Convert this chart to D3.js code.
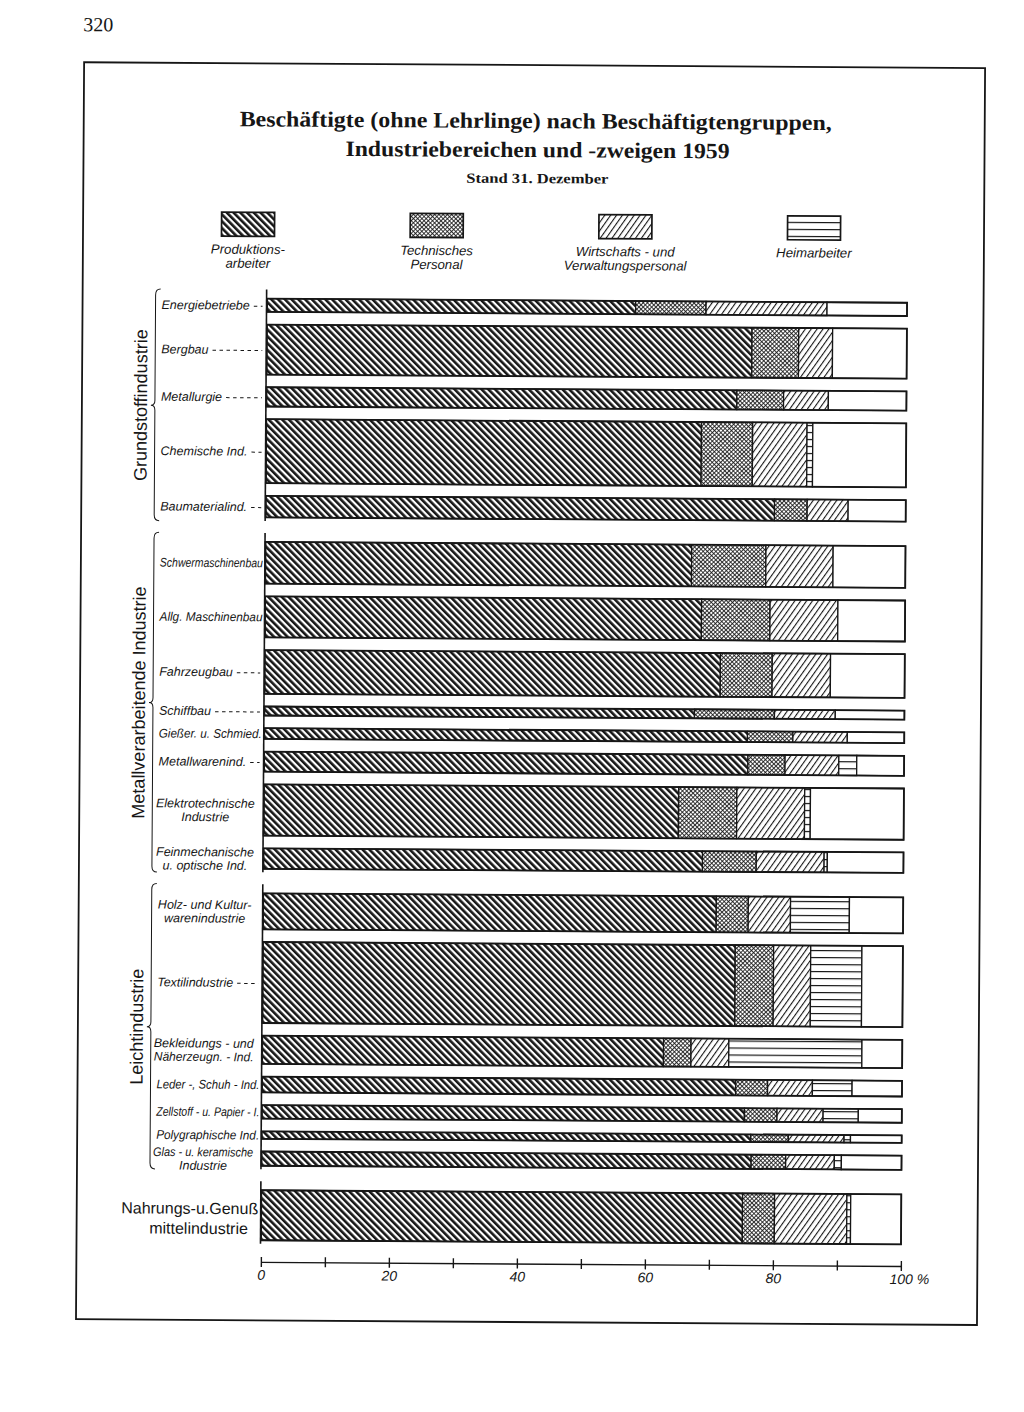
<!DOCTYPE html>
<html><head><meta charset="utf-8">
<script src="https://cdn.jsdelivr.net/npm/d3@7"></script>
<style>body{margin:0;background:#fff}svg{display:block}</style>
</head><body><svg id="c" width="1024" height="1412"></svg>
<script>
// ---------------- DATA ----------------
const groupNames = ["Grundstoffindustrie", "Metallverarbeitende Industrie", "Leichtindustrie", ""];
const categories = [
  "Energiebetriebe", "Bergbau", "Metallurgie", "Chemische Ind.", "Baumaterialind.",
  "Schwermaschinenbau", "Allg. Maschinenbau", "Fahrzeugbau", "Schiffbau", "Gießer. u. Schmied.",
  "Metallwarenind.", "Elektrotechnische|Industrie", "Feinmechanische|u. optische Ind.",
  "Holz- und Kultur-|warenindustrie", "Textilindustrie", "Bekleidungs - und|Näherzeugn. - Ind.",
  "Leder -, Schuh - Ind.", "Zellstoff - u. Papier - I.", "Polygraphische Ind.",
  "Glas - u. keramische|Industrie", "Nahrungs-u.Genuß|mittelindustrie"
];
const categoryGroup = [0,0,0,0,0, 1,1,1,1,1,1,1,1, 2,2,2,2,2,2,2, 3];
// shares in %
const produktionsarbeiter = [57.6, 75.8, 73.5, 68.0, 79.5, 66.6, 68.2, 71.2, 67.2, 75.5, 75.6, 64.8, 68.6, 70.8, 73.8, 62.7, 74.0, 75.4, 76.4, 76.5, 75.2];
const technischesPersonal = [11.0, 7.3, 7.3, 8.0, 5.1, 11.6, 10.7, 8.1, 12.5, 7.1, 5.8, 9.1, 8.4, 5.0, 6.0, 4.3, 5.0, 5.1, 5.9, 5.4, 5.0];
const wirtschaftsVerwaltung = [18.9, 5.3, 7.0, 8.5, 6.4, 10.5, 10.6, 9.1, 9.5, 8.5, 8.4, 10.6, 10.6, 6.6, 5.8, 5.9, 7.0, 7.2, 8.7, 7.6, 11.3];
const heimarbeiter = [0, 0, 0, 0.9, 0, 0, 0, 0, 0, 0, 2.8, 0.9, 0.5, 9.2, 8.0, 20.8, 6.2, 5.5, 1.0, 1.1, 0.6];
// bar thickness encodes number of employees (thousands, estimated)
const beschaeftigte = [53, 200, 77, 256, 86, 167, 164, 175, 36, 43, 80, 205, 82, 144, 324, 113, 63, 54, 30, 57, 200];
const seriesNames = ["Produktions-|arbeiter", "Technisches|Personal", "Wirtschafts - und|Verwaltungspersonal", "Heimarbeiter"];
const xTicks = [0, 10, 20, 30, 40, 50, 60, 70, 80, 90, 100];
const xTickLabels = ["0", "", "20", "", "40", "", "60", "", "80", "", "100 %"];

// ---------------- CHART ----------------
const svg = d3.select("#c");
const ink = "#161616";
const defs = svg.append("defs");

const pProd = defs.append("pattern").attr("id", "pProd").attr("patternUnits", "userSpaceOnUse")
  .attr("width", 4.8).attr("height", 4.8).attr("patternTransform", "rotate(-45)");
pProd.append("rect").attr("width", 4.8).attr("height", 4.8).attr("fill", "#fff");
pProd.append("rect").attr("width", 2.6).attr("height", 4.8).attr("fill", ink);

const pTech = defs.append("pattern").attr("id", "pTech").attr("patternUnits", "userSpaceOnUse")
  .attr("width", 3).attr("height", 3).attr("patternTransform", "rotate(45)");
pTech.append("rect").attr("width", 3).attr("height", 3).attr("fill", "#fff");
pTech.append("rect").attr("width", 0.85).attr("height", 3).attr("fill", ink);
pTech.append("rect").attr("width", 3).attr("height", 0.85).attr("fill", ink);

const pWirt = defs.append("pattern").attr("id", "pWirt").attr("patternUnits", "userSpaceOnUse")
  .attr("width", 4.8).attr("height", 4.8).attr("patternTransform", "rotate(35)");
pWirt.append("rect").attr("width", 4.8).attr("height", 4.8).attr("fill", "#fff");
pWirt.append("rect").attr("width", 1.1).attr("height", 4.8).attr("fill", ink);

const pHeim = defs.append("pattern").attr("id", "pHeim").attr("patternUnits", "userSpaceOnUse")
  .attr("width", 7).attr("height", 7);
pHeim.append("rect").attr("width", 7).attr("height", 7).attr("fill", "#fff");
pHeim.append("rect").attr("y", 3).attr("width", 7).attr("height", 1.2).attr("fill", ink);

const fills = ["url(#pProd)", "url(#pTech)", "url(#pWirt)", "url(#pHeim)", "#fff"];

// whole printed page is slightly rotated in the scan
const page = svg.append("g").attr("transform", "rotate(0.37,512,700)");

// page number and frame
page.append("text").attr("x", 79).attr("y", 34).attr("font-family", "Liberation Serif")
  .attr("font-size", 20).attr("fill", ink).text("320");
page.append("rect").attr("x", 80).attr("y", 65).attr("width", 901).attr("height", 1257)
  .attr("fill", "none").attr("stroke", ink).attr("stroke-width", 1.8);

// titles
const serif = "Liberation Serif";
page.append("text").attr("x", 532).attr("y", 128).attr("text-anchor", "middle")
  .attr("font-family", serif).attr("font-weight", "bold").attr("font-size", 22)
  .attr("textLength", 592).attr("lengthAdjust", "spacingAndGlyphs").attr("fill", ink)
  .text("Beschäftigte (ohne Lehrlinge) nach Beschäftigtengruppen,");
page.append("text").attr("x", 534).attr("y", 157).attr("text-anchor", "middle")
  .attr("font-family", serif).attr("font-weight", "bold").attr("font-size", 22)
  .attr("textLength", 384).attr("lengthAdjust", "spacingAndGlyphs").attr("fill", ink)
  .text("Industriebereichen und -zweigen 1959");
page.append("text").attr("x", 534).attr("y", 183).attr("text-anchor", "middle")
  .attr("font-family", serif).attr("font-weight", "bold").attr("font-size", 14)
  .attr("textLength", 142).attr("lengthAdjust", "spacingAndGlyphs").attr("fill", ink)
  .text("Stand 31. Dezember");

// legend
const legX = d3.scalePoint().domain(d3.range(4)).range([245, 811]);
const lg = page.append("g").selectAll("g").data(seriesNames).join("g")
  .attr("transform", (d, i) => `translate(${legX(i)},0)`);
lg.append("rect").attr("x", -26.5).attr("y", 214).attr("width", 53).attr("height", 24)
  .attr("fill", (d, i) => fills[i]).attr("stroke", ink).attr("stroke-width", 1.7);
lg.each(function (d) {
  const lines = d.split("|");
  lines.forEach((l, k) => d3.select(this).append("text").attr("text-anchor", "middle")
    .attr("font-family", "Liberation Sans").attr("font-style", "italic").attr("font-size", 13.2).attr("fill", ink)
    .attr("x", 0).attr("y", 255.5 + k * 14).text(l));
});

// scales & layout
const x = d3.scaleLinear().domain([0, 100]).range([264.5, 904.5]);
const h = d3.scaleLinear().domain([0, 100]).range([0, 25]);
const barGap = 12.7, groupGap = 24.5;
const tops = [];
let yy = 300.2;
categories.forEach((c, i) => {
  if (i > 0 && categoryGroup[i] !== categoryGroup[i - 1]) yy += groupGap - barGap;
  tops.push(yy);
  yy += h(beschaeftigte[i]) + barGap;
});

const rows = categories.map((c, i) => {
  const vals = [produktionsarbeiter[i], technischesPersonal[i], wirtschaftsVerwaltung[i], heimarbeiter[i]];
  const sum = d3.sum(vals);
  vals.push(100 - sum);
  let acc = 0;
  const segs = vals.map((v, k) => { const s = { k, x0: acc, x1: acc + v }; acc += v; return s; }).filter(s => s.x1 - s.x0 > 0.01);
  return { i, name: c, top: tops[i], height: h(beschaeftigte[i]), segs, group: categoryGroup[i] };
});

// bars
const bars = page.append("g").selectAll("g").data(rows).join("g");
bars.selectAll("rect.seg").data(r => r.segs.map(s => Object.assign({ r }, s))).join("rect")
  .attr("class", "seg")
  .attr("x", s => x(s.x0)).attr("width", s => x(s.x1) - x(s.x0))
  .attr("y", s => s.r.top).attr("height", s => s.r.height)
  .attr("fill", s => fills[s.k]).attr("stroke", ink).attr("stroke-width", 1.3);
bars.append("rect").attr("x", x(0)).attr("width", x(100) - x(0))
  .attr("y", r => r.top).attr("height", r => r.height)
  .attr("fill", "none").attr("stroke", ink).attr("stroke-width", 1.8);

// category labels
const labelLeft = 159, labelRight = 260, lblSize = 12.5;
bars.each(function (r) {
  const g = d3.select(this);
  const cy = r.top + r.height / 2;
  const lines = r.name.split("|");
  if (r.group === 3) {
    const t = g.append("text").attr("text-anchor", "middle").attr("font-family", "Liberation Sans")
      .attr("font-size", 16).attr("fill", ink);
    t.append("tspan").attr("x", 193).attr("y", cy - 1).text(lines[0]);
    t.append("tspan").attr("x", 202).attr("y", cy + 19).text(lines[1]);
    return;
  }
  if (lines.length === 2) {
    const t = g.append("text").attr("text-anchor", "middle").attr("font-family", "Liberation Sans")
      .attr("font-style", "italic").attr("font-size", lblSize).attr("fill", ink);
    t.append("tspan").attr("x", 206).attr("y", cy - 2).text(lines[0]);
    t.append("tspan").attr("x", 206).attr("y", cy + 11.5).text(lines[1]);
    const maxLen = 100;
    t.selectAll("tspan").each(function () {
      if (this.getComputedTextLength() > maxLen) d3.select(this).attr("textLength", maxLen).attr("lengthAdjust", "spacingAndGlyphs");
    });
  } else {
    const t = g.append("text").attr("x", labelLeft).attr("y", cy + 4.5)
      .attr("font-family", "Liberation Sans").attr("font-style", "italic").attr("font-size", lblSize)
      .attr("fill", ink).text(lines[0]);
    let len = t.node().getComputedTextLength();
    const maxLen = 262 - labelLeft;
    if (len > maxLen) { t.attr("textLength", maxLen).attr("lengthAdjust", "spacingAndGlyphs"); len = maxLen; }
    const x0 = labelLeft + len + 4;
    if (labelRight - x0 > 3) {
      g.append("line").attr("x1", x0).attr("x2", labelRight).attr("y1", cy + 1).attr("y2", cy + 1)
        .attr("stroke", ink).attr("stroke-width", 1).attr("stroke-dasharray", "3.5,3.5");
    }
  }
});

// group axis lines, braces and group labels
d3.range(4).forEach(gi => {
  const rs = rows.filter(r => r.group === gi);
  const y0 = rs[0].top, y1 = rs[rs.length - 1].top + rs[rs.length - 1].height;
  page.append("line").attr("x1", x(0) - 0.5).attr("x2", x(0) - 0.5).attr("y1", y0 - 9).attr("y2", y1 + 3.5)
    .attr("stroke", ink).attr("stroke-width", 1.6);
  if (!groupNames[gi]) return;
  const ym = (y0 + y1) / 2 - 2, bt = y0 - 9, bb = y1 + 4, bx = 153;
  page.append("path")
    .attr("d", `M${bx + 5},${bt} Q${bx},${bt} ${bx},${bt + 6} L${bx},${ym - 5} Q${bx},${ym} ${bx - 4},${ym} Q${bx},${ym} ${bx},${ym + 5} L${bx},${bb - 6} Q${bx},${bb} ${bx + 5},${bb}`)
    .attr("fill", "none").attr("stroke", ink).attr("stroke-width", 1);
  page.append("text").attr("transform", `translate(145,${ym}) rotate(-90)`).attr("text-anchor", "middle")
    .attr("font-family", "Liberation Sans").attr("font-size", 18).attr("fill", ink).text(groupNames[gi]);
});

// x axis
const axisY = 1263.5;
const ax = page.append("g").attr("transform", `translate(0,${axisY})`)
  .call(d3.axisBottom(x).tickValues(xTicks).tickSizeInner(5).tickSizeOuter(0)
    .tickFormat((d, i) => xTickLabels[i]));
ax.select(".domain").attr("stroke", ink).attr("stroke-width", 1.4);
ax.selectAll(".tick line").attr("y1", -5).attr("y2", 5).attr("stroke", ink).attr("stroke-width", 1.4);
ax.selectAll(".tick text").attr("y", 8).attr("dy", "0.71em")
  .attr("font-family", "Liberation Sans").attr("font-style", "italic").attr("font-size", 14).attr("fill", ink)
  .attr("dx", (d) => d === 100 ? 8 : 0);
</script>
</body></html>
